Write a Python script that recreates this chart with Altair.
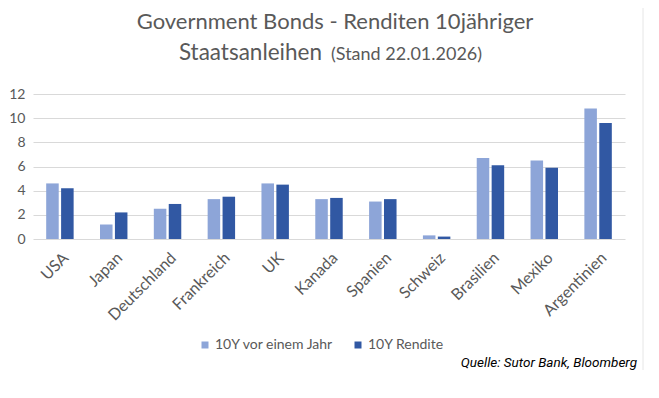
import altair as alt
import pandas as pd

countries = ["USA", "Japan", "Deutschland", "Frankreich", "UK", "Kanada",
             "Spanien", "Schweiz", "Brasilien", "Mexiko", "Argentinien"]
series_names = ["10Y vor einem Jahr", "10Y Rendite"]
vor_einem_jahr = [4.6, 1.2, 2.5, 3.3, 4.6, 3.3, 3.1, 0.3, 6.7, 6.5, 10.8]
rendite = [4.2, 2.2, 2.9, 3.5, 4.5, 3.4, 3.3, 0.2, 6.1, 5.9, 9.6]
y_ticks = [0, 2, 4, 6, 8, 10, 12]
colors = ["#8DA5D8", "#3158A3"]

title_line1 = "Government Bonds - Renditen 10jähriger"
title_line2a = "Staatsanleihen"
title_line2b = "(Stand 22.01.2026)"
source_text = "Quelle: Sutor Bank, Bloomberg"

rows = []
for c, a, b in zip(countries, vor_einem_jahr, rendite):
    rows.append({"Land": c, "Serie": series_names[0], "Wert": a})
    rows.append({"Land": c, "Serie": series_names[1], "Wert": b})
df = pd.DataFrame(rows)

FONT = "Lato"
GRAY = "#595959"

bars = alt.Chart(df).mark_bar().encode(
    x=alt.X("Land:N", sort=countries,
            scale=alt.Scale(paddingInner=0.49, paddingOuter=0.245),
            axis=alt.Axis(title=None, labelAngle=-45, labelAlign="right",
                          labelBaseline="middle", labelPadding=16,
                          labelOffset=6, ticks=False,
                          domain=False, labelFont=FONT, labelFontSize=16,
                          labelColor=GRAY)),
    xOffset=alt.XOffset("Serie:N", sort=series_names,
                        scale=alt.Scale(paddingInner=0.16, paddingOuter=0)),
    y=alt.Y("Wert:Q", scale=alt.Scale(domain=[0, 12], nice=False),
            axis=alt.Axis(values=y_ticks, title=None, domain=False, ticks=False,
                          gridColor="#d9d9d9", gridWidth=1, labelPadding=8,
                          labelFont=FONT, labelFontSize=14, labelColor=GRAY)),
    color=alt.Color("Serie:N", sort=series_names,
                    scale=alt.Scale(domain=series_names, range=colors),
                    legend=alt.Legend(title=None, orient="none", legendX=165,
                                      legendY=244, direction="horizontal",
                                      symbolType="square", symbolSize=49,
                                      symbolStrokeWidth=0, labelFont=FONT,
                                      labelFontSize=14, labelColor=GRAY,
                                      columnPadding=17, labelOffset=3,
                                      padding=0)),
)


def text_layer(txt, x, y, size, align, font=FONT, color=GRAY, style="normal"):
    return alt.Chart(pd.DataFrame({"t": [txt]})).mark_text(
        font=font, fontSize=size, align=align, baseline="alphabetic",
        color=color, fontStyle=style
    ).encode(x=alt.value(x), y=alt.value(y), text="t:N")


t1 = text_layer(title_line1, 302, -65, 22, "center")
t2a = text_layer(title_line2a, 289, -34, 22.5, "right")
t2b = text_layer(title_line2b, 298, -34, 18, "left")
src = text_layer(source_text, 604, 273, 13.5, "right", font="Roboto",
                 color="#000000", style="italic")

border = alt.Chart(pd.DataFrame({"a": [0]})).mark_rule(
    color="#e6e6e6", strokeWidth=1
).encode(x=alt.value(610), y=alt.value(-94), y2=alt.value(276))

chart = alt.layer(bars, t1, t2a, t2b, src, border).properties(
    width=592, height=145,
    autosize=alt.AutoSizeParams(type="none"),
    padding={"left": 25, "top": 86, "right": 20, "bottom": 140},
).configure_view(stroke=None)

chart.save("out.html", embed_options={"renderer": "svg", "actions": False})
